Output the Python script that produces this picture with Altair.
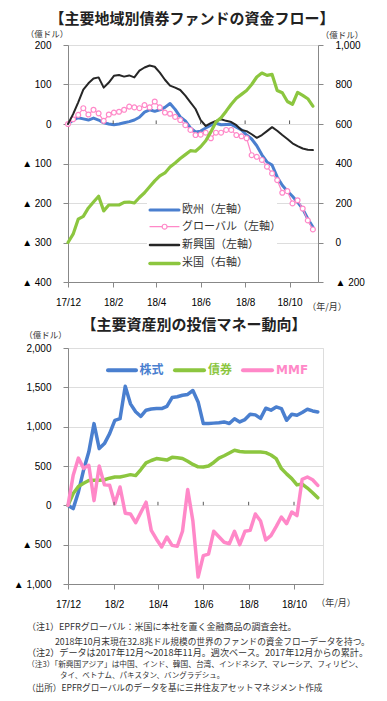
import altair as alt
import pandas as pd

# ---------------- data ----------------
dates = [d.strftime("%Y-%m-%d") for d in pd.date_range("2017-12-01", periods=49, freq="7D")]

# top chart (億ドル, cumulative since 2017/12)
europe = [0, 10, 16, 13, 10, 15, 10, 3, 0, -2,
          0, 3, 6, 10, 17, 30, 36, 32, 36, 42,
          52, 37, 18, 8, -10, -20, -18, -10, -3, 2,
          -2, -1, -1, -8, -15, -28, -38, -55, -78, -96,
          -104, -134, -155, -170, -183, -198, -215, -240, -261]
global_ = [0, 12, 23, 40, 24, 36, 27, 8, 24, 29,
           31, 36, 44, 42, 40, 48, 42, 57, 42, 29,
           26, 18, 10, -3, -15, -28, -27, -22, -36, -22,
           -22, -15, -15, -28, -31, -36, -79, -83, -91, -108,
           -125, -142, -174, -170, -201, -193, -214, -244, -267]
emerging = [0, 25, 55, 87, 103, 115, 118, 92, 105, 122,
            124, 120, 123, 118, 135, 143, 148, 145, 130, 112,
            97, 92, 86, 72, 55, 38, 10, -5, 2, 8,
            12, 8, 5, -3, -15, -18, -26, -35, -28, -18,
            -8, -17, -28, -38, -49, -56, -62, -65, -66]
us = [0, 42, 118, 132, 175, 205, 234, 160, 190, 190,
      190, 203, 205, 200, 228, 252, 282, 312, 337, 352,
      382, 403, 425, 445, 465, 462, 485, 515, 560, 610,
      632, 665, 700, 730, 750, 770, 800, 838, 858, 846,
      851, 770, 758, 714, 700, 760, 745, 728, 690]

# bottom chart (億ドル)
stocks = [0, -42, 170, 450, 680, 1039, 721, 785, 912, 1081,
          1102, 1514, 1290, 1190, 1130, 1209, 1225, 1230, 1230, 1259,
          1370, 1380, 1399, 1410, 1460, 1314, 1039, 1039, 1045, 1050,
          1060, 1040, 1100, 1060, 1090, 1158, 1150, 1105, 1235, 1209,
          1251, 1230, 1081, 1158, 1145, 1180, 1221, 1200, 1187]
bonds = [0, 150, 240, 280, 315, 318, 318, 325, 345, 360,
         360, 375, 390, 378, 455, 540, 570, 594, 585, 575,
         610, 605, 595, 560, 520, 490, 488, 500, 545, 600,
         630, 665, 700, 685, 679, 679, 679, 679, 670, 640,
         594, 467, 400, 340, 260, 270, 220, 160, 95]
mmf = [0, 382, 600, 470, 509, 60, 500, 260, 254, 21,
       233, -100, -110, -220, -90, 40, -318, -430, -530, -403,
       -509, -520, -330, 200, -200, -912, -640, -620, -330, -400,
       -470, -488, -330, -500, -330, -318, -110, -200, -440, -385,
       -270, -148, -233, -85, -130, 330, 360, 325, 254]

tick_dates = ["2017-12-01", "2018-02-01", "2018-04-01", "2018-06-01", "2018-08-01", "2018-10-01"]
top_y_ticks = [200, 100, 0, -100, -200, -300, -400]
top_r_ticks = [1000, 800, 600, 400, 200, 0, -200]
bot_y_ticks = [2000, 1500, 1000, 500, 0, -500, -1000]

legend_top = ["欧州（左軸）", "グローバル（左軸）", "新興国（左軸）", "米国（右軸）"]
legend_bot = ["株式", "債券", "MMF"]
notes = [
    "（注1）EPFRグローバル：米国に本社を置く金融商品の調査会社。",
    "2018年10月末現在32.8兆ドル規模の世界のファンドの資金フローデータを持つ。",
    "（注2）データは2017年12月～2018年11月。週次ベース。2017年12月からの累計。",
    "（注3）「新興国アジア」は中国、インド、韓国、台湾、インドネシア、マレーシア、フィリピン、",
    "タイ、ベトナム、パキスタン、バングラデシュ。",
    "（出所）EPFRグローバルのデータを基に三井住友アセットマネジメント作成",
]

top_df = pd.DataFrame({"date": dates, "europe": europe, "global": global_,
                       "emerging": emerging, "us": us})
bot_df = pd.DataFrame({"date": dates, "stocks": stocks, "bonds": bonds, "mmf": mmf})
tick_df = pd.DataFrame({"date": tick_dates[1:]})

# ---------------- styles ----------------
BLUE = "#4a7fcf"
PINK = "#ff88c8"
BLACK = "#262626"
GREEN = "#8cc63f"
TXT = "#333333"
JP = "Noto Sans CJK JP"


def utc(s):
    y, m, d = [int(v) for v in s.split("-")]
    return alt.DateTime(year=y, month=m, date=d, utc=True)


xscale = alt.Scale(type="utc", domain=[utc("2017-12-01"), utc("2018-11-09")])
xaxis = alt.Axis(values=[utc(s) for s in tick_dates], labelExpr="utcFormat(datum.value, '%y/%-m')",
                 title=None, grid=False, labelFlush=False, labelOverlap=False, labelPadding=10)
X = alt.X("date:T", scale=xscale, axis=xaxis)

LBL = "datum.value < 0 ? '▲ ' + format(-datum.value, ',') : format(datum.value, ',')"

one = pd.DataFrame({"k": [0]})


def txt(s, x, y, size=11, color=TXT, weight="normal", align="left", font=JP):
    return alt.Chart(pd.DataFrame({"t": [s]})).mark_text(
        align=align, baseline="middle", fontSize=size, color=color, fontWeight=weight, font=font
    ).encode(x=alt.value(x), y=alt.value(y), text="t:N")


def hline(x1, x2, y, color, w):
    return alt.Chart(one).mark_rule(color=color, strokeWidth=w, strokeCap="round").encode(
        x=alt.value(x1), x2=alt.value(x2), y=alt.value(y))


# ---------------- top chart ----------------
yL = alt.Axis(values=top_y_ticks, labelExpr=LBL, title=None, grid=True, labelPadding=12)
yscaleL = alt.Scale(domain=[-400, 200], nice=False)
yR = alt.Axis(values=top_r_ticks, labelExpr=LBL, title=None, grid=False, orient="right", labelPadding=12)

base_t = alt.Chart(top_df)
line_kw = dict(strokeCap="round", strokeJoin="round")
l_eu = base_t.mark_line(color=BLUE, strokeWidth=3, **line_kw).encode(x=X, y=alt.Y("europe:Q", scale=yscaleL, axis=yL))
l_gl = base_t.mark_line(color=PINK, strokeWidth=1.2, **line_kw).encode(x=X, y=alt.Y("global:Q", scale=yscaleL, axis=yL))
p_gl = base_t.mark_point(shape="circle", filled=True, fill="white", stroke=PINK, strokeWidth=1.2, size=24,
                         opacity=1).encode(x=X, y=alt.Y("global:Q", scale=yscaleL, axis=yL))
l_em = base_t.mark_line(color=BLACK, strokeWidth=2, **line_kw).encode(x=X, y=alt.Y("emerging:Q", scale=yscaleL, axis=yL))
t_ticks = alt.Chart(tick_df).mark_rule(color="#595959", strokeWidth=1).encode(
    x=X, y=alt.datum(0, scale=yscaleL, axis=yL), y2=alt.datum(9))
left = alt.layer(l_eu, l_gl, p_gl, l_em, t_ticks)

l_us = base_t.mark_line(color=GREEN, strokeWidth=3.2, **line_kw).encode(
    x=X, y=alt.Y("us:Q", scale=alt.Scale(domain=[-200, 1000], nice=False), axis=yR))

ly = [165, 181.7, 200, 218.4]
top_ann = [
    alt.Chart(one).mark_rect(color="white").encode(x=alt.value(79), x2=alt.value(209),
                                                  y=alt.value(155), y2=alt.value(229)),
    hline(82, 111, ly[0], BLUE, 3),
    hline(82, 111, ly[1], PINK, 1.2),
    alt.Chart(one).mark_point(shape="circle", filled=True, fill="white", stroke=PINK, strokeWidth=1.2,
                              size=24, opacity=1).encode(x=alt.value(96.6), y=alt.value(ly[1])),
    hline(82, 111, ly[2], BLACK, 2.5),
    hline(82, 111, ly[3], GREEN, 3.5),
] + [txt(s, 114, y, size=11) for s, y in zip(legend_top, ly)] + [
    txt("【主要地域別債券ファンドの資金フロー】", 124, -26, size=15, weight="bold", align="center", color="#222"),
    txt("（億ドル）", -21, -11.5, size=8.5, align="center"),
    txt("（億ドル）", 274, -10, size=8.5, align="center"),
    txt("（年/月）", 259, 262, size=9, align="center"),
]

top = alt.layer(left, l_us, *top_ann).resolve_scale(y="independent").properties(width=250, height=237)

# ---------------- bottom chart ----------------
yB = alt.Axis(values=bot_y_ticks, labelExpr=LBL, title=None, grid=True, labelPadding=12)
yscaleB = alt.Scale(domain=[-1000, 2000], nice=False)
base_b = alt.Chart(bot_df)
b_st = base_b.mark_line(color=BLUE, strokeWidth=3.5, **line_kw).encode(x=X, y=alt.Y("stocks:Q", scale=yscaleB, axis=yB))
b_bd = base_b.mark_line(color=GREEN, strokeWidth=3.5, **line_kw).encode(x=X, y=alt.Y("bonds:Q", scale=yscaleB, axis=yB))
b_mm = base_b.mark_line(color=PINK, strokeWidth=3.5, **line_kw).encode(x=X, y=alt.Y("mmf:Q", scale=yscaleB, axis=yB))
b_ticks = alt.Chart(tick_df).mark_rule(color="#595959", strokeWidth=1).encode(
    x=X, y=alt.datum(0, scale=yscaleB, axis=yB), y2=alt.datum(45))

bot_ann = [
    hline(40, 68, 22.3, BLUE, 4),
    txt(legend_bot[0], 71.5, 22.3, size=12, weight="bold", color=BLUE),
    hline(107, 136, 22.3, GREEN, 4),
    txt(legend_bot[1], 140, 22.3, size=12, weight="bold", color=GREEN),
    hline(175, 204, 22.3, PINK, 4),
    txt(legend_bot[2], 208, 22.3, size=12, weight="bold", color=PINK, font="DejaVu Sans"),
    txt("【主要資産別の投信マネー動向】", 126, -22.7, size=15, weight="bold", align="center", color="#222"),
    txt("（億ドル）", -22.5, -12.7, size=8.5, align="center"),
    txt("（年/月）", 268, 255, size=9, align="center"),
]
note_pos = [(-41, 279), (-13, 293.5), (-41, 304.5), (-41, 316.5), (-8, 328), (-41, 340)]
note_size = [9, 8.7, 9.1, 7.7, 7.5, 8.6]
bot_ann += [txt(s, x, y, size=fs) for s, (x, y), fs in zip(notes, note_pos, note_size)]

bottom = alt.layer(b_st, b_bd, b_mm, b_ticks, *bot_ann).properties(width=255, height=236)

chart = alt.vconcat(top, bottom, spacing=66, bounds="flush").properties(
    padding={"left": 4, "top": 3, "right": 0, "bottom": 0}
).configure_axis(
    labelFont="DejaVu Sans", labelFontSize=11, labelColor=TXT, domain=False, ticks=False, tickSize=0,
    gridColor="#8c8c8c", gridWidth=1
).configure_view(stroke="#404040", strokeWidth=1).configure(background="white")

chart.save("out.html", embed_options={"renderer": "svg", "actions": False})
